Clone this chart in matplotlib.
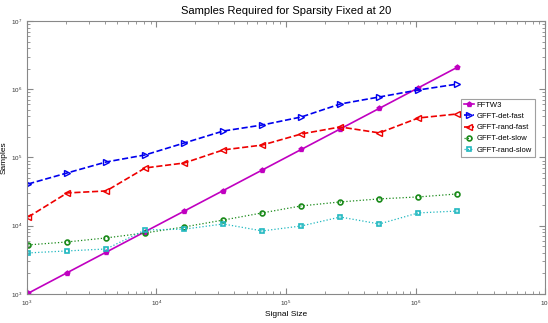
import numpy as np
import matplotlib.pyplot as plt

# signal sizes 2^10 .. 2^21
SignalSize = [2**k for k in range(10, 22)]

FFTW3 = [1024, 2048, 4096, 8192, 16384, 32768, 65536, 131072, 262144, 524288, 1048576, 2097152]
DetFast = [40900, 59300, 85900, 109000, 163000, 244000, 299000, 392000, 608000, 770000, 975000, 1190000]
RandFast = [13400, 30200, 32300, 70200, 83000, 129000, 152000, 221000, 280000, 229000, 379000, 434000]
DetSlow = [5230, 5780, 6620, 7840, 9590, 12100, 15400, 19500, 22300, 24700, 26400, 29200]
RandSlow = [3990, 4270, 4560, 8670, 8900, 10600, 8380, 9910, 13400, 10600, 15400, 16400]

plt.rcParams['font.family'] = ['Liberation Sans', 'DejaVu Sans']

fig = plt.figure(figsize=(5.48, 3.23), dpi=100)
ax = fig.add_axes([0.049, 0.09, 0.946, 0.845])

ax.plot(SignalSize, FFTW3, color='#c000c0', linestyle='-', marker='p', markersize=3.5, linewidth=1.2, label='FFTW3')
ax.plot(SignalSize, DetFast, color='#0000ee', linestyle='--', marker='>', markersize=4, markerfacecolor='none', linewidth=1.2, label='GFFT-det-fast')
ax.plot(SignalSize, RandFast, color='#ee0000', linestyle='--', marker='<', markersize=4, markerfacecolor='none', linewidth=1.2, label='GFFT-rand-fast')
ax.plot(SignalSize, DetSlow, color='#1a8a1a', linestyle=':', marker='o', markersize=3.5, markerfacecolor='none', linewidth=0.9,
        markeredgewidth=1.2, label='GFFT-det-slow')
ax.plot(SignalSize, RandSlow, color='#20b8c0', linestyle=':', marker='s', markersize=3.5, markerfacecolor='none', linewidth=0.9,
        markeredgewidth=1.2, label='GFFT-rand-slow')

ax.set_xscale('log')
ax.set_yscale('log')
ax.set_xlim(1e3, 1e7)
ax.set_ylim(1e3, 1e7)

for s in ax.spines.values():
    s.set_color('#888888')
    s.set_linewidth(0.8)
ax.tick_params(which='both', direction='in', top=True, right=True, colors='#888888', labelcolor='#333333', labelsize=4.5)
ax.tick_params(which='major', length=4)
ax.tick_params(which='minor', length=2)

ax.set_title('Samples Required for Sparsity Fixed at 20', fontsize=8, pad=5)
ax.set_xlabel('Signal Size', fontsize=6, labelpad=2)
ax.set_ylabel('Samples', fontsize=6, labelpad=2)

leg = ax.legend(loc='upper right', bbox_to_anchor=(0.987, 0.73), fontsize=5.5, handlelength=1.3,
                frameon=True, fancybox=False, borderpad=0.4, labelspacing=0.5, handletextpad=0.3)
leg.get_frame().set_edgecolor('#888888')
leg.get_frame().set_linewidth(0.8)

fig.savefig('out.png', dpi=100)
